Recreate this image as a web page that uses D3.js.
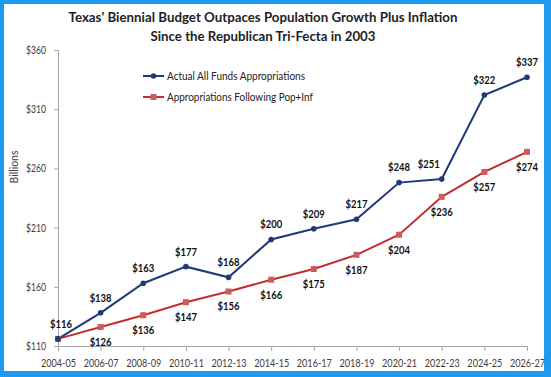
<!DOCTYPE html>
<html><head><meta charset="utf-8">
<script src="https://cdn.jsdelivr.net/npm/d3@7"></script>
<style>body{margin:0;background:#fff}svg{display:block}text{font-family:Lato,"Open Sans",sans-serif}</style>
</head><body><svg id="c" width="551" height="377"></svg>
<script>
const categories = ["2004-05","2006-07","2008-09","2010-11","2012-13","2014-15","2016-17","2018-19","2020-21","2022-23","2024-25","2026-27"];
const actual = [116,138,163,177,168,200,209,217,248,251,322,337];
const popInf = [116,126,136,147,156,166,175,187,204,236,257,274];
const yTicks = [110,160,210,260,310,360];
const titleLines = ["Texas' Biennial Budget Outpaces Population Growth Plus Inflation","Since the Republican Tri-Fecta in 2003"];
const seriesNames = ["Actual All Funds Appropriations","Appropriations Following Pop+Inf"];

const svg = d3.select("#c");
const blue="#1f3a7a", red="#c0302e", redM="#cf5a58";
svg.append("rect").attr("x",2).attr("y",2).attr("width",544).attr("height",371)
  .attr("fill","#fff").attr("stroke","#1e9bef").attr("stroke-width",4);
svg.append("rect").attr("x",545).attr("y",0).attr("width",6).attr("height",377).attr("fill","#1e9bef");
svg.append("rect").attr("x",0).attr("y",372).attr("width",551).attr("height",5).attr("fill","#1e9bef");

const x = d3.scalePoint().domain(categories).range([58,527]);
const y = d3.scaleLinear().domain([110,360]).range([346,50]);

// title
const tl = [[389,22],[225,41]];
titleLines.forEach((t,k)=>{
  svg.append("text").attr("x",263).attr("y",tl[k][1]).attr("text-anchor","middle")
    .attr("font-size",14).attr("font-weight","bold").attr("fill","#222")
    .attr("textLength",tl[k][0]).attr("lengthAdjust","spacingAndGlyphs").text(t);
});

// axes
const yAxis = svg.append("g").attr("transform","translate(58,0)")
  .call(d3.axisLeft(y).tickValues(yTicks).tickSize(4).tickPadding(8).tickFormat(d=>"$"+d));
const xAxis = svg.append("g").attr("transform","translate(0,346)")
  .call(d3.axisBottom(x).tickSize(5).tickPadding(8));
[yAxis,xAxis].forEach(g=>{
  g.select(".domain").attr("stroke","#a6a6a6");
  g.selectAll(".tick line").attr("stroke","#a6a6a6");
  g.selectAll(".tick text").attr("font-size",11).attr("fill","#404040").attr("font-family","Lato,sans-serif");
});
yAxis.selectAll(".tick text").attr("textLength",20).attr("lengthAdjust","spacingAndGlyphs");
xAxis.selectAll(".tick text").attr("textLength",35).attr("lengthAdjust","spacingAndGlyphs");
svg.append("text").attr("transform","translate(18,167) rotate(-90)").attr("text-anchor","middle")
  .attr("font-size",10.5).attr("fill","#404040").text("Billions");

const line = d3.line().x((d,i)=>x(categories[i])).y(d=>y(d));
svg.append("path").datum(popInf).attr("d",line).attr("fill","none").attr("stroke",red).attr("stroke-width",2);
svg.append("path").datum(actual).attr("d",line).attr("fill","none").attr("stroke",blue).attr("stroke-width",2);

svg.selectAll(".sq").data(popInf).enter().append("rect")
  .attr("x",(d,i)=>x(categories[i])-3).attr("y",d=>y(d)-3).attr("width",6).attr("height",6).attr("fill",redM);
svg.selectAll(".ci").data(actual).enter().append("circle")
  .attr("cx",(d,i)=>x(categories[i])).attr("cy",d=>y(d)).attr("r",2.8).attr("fill",blue);

// labels
svg.selectAll(".la").data(actual).enter().append("text")
  .attr("x",(d,i)=>x(categories[i]) + (i===9?-13:(i===0?3:0)))
  .attr("y",(d,i)=>y(d)-15).attr("dy","0.35em").attr("text-anchor","middle")
  .attr("font-size",11).attr("font-weight","bold").attr("fill","#111")
  .attr("textLength",22).attr("lengthAdjust","spacingAndGlyphs").text(d=>"$"+d);
svg.selectAll(".lb").data(popInf.slice(1)).enter().append("text")
  .attr("x",(d,i)=>x(categories[i+1]))
  .attr("y",d=>y(d)+15).attr("dy","0.35em").attr("text-anchor","middle")
  .attr("font-size",11).attr("font-weight","bold").attr("fill","#111")
  .attr("textLength",22).attr("lengthAdjust","spacingAndGlyphs").text(d=>"$"+d);

// legend
const leg = [[blue,"c",76,138],[red,"s",97,146]];
leg.forEach((l,k)=>{
  svg.append("line").attr("x1",143).attr("x2",164).attr("y1",l[2]).attr("y2",l[2]).attr("stroke",l[0]).attr("stroke-width",2);
  if(l[1]==="c") svg.append("circle").attr("cx",153.5).attr("cy",l[2]).attr("r",2.8).attr("fill",blue);
  else svg.append("rect").attr("x",150.5).attr("y",l[2]-3).attr("width",6).attr("height",6).attr("fill",redM);
  svg.append("text").attr("x",167).attr("y",l[2]).attr("dy","0.35em").attr("font-size",11).attr("fill","#222")
    .attr("textLength",l[3]).attr("lengthAdjust","spacingAndGlyphs").text(seriesNames[k]);
});
</script></body></html>
